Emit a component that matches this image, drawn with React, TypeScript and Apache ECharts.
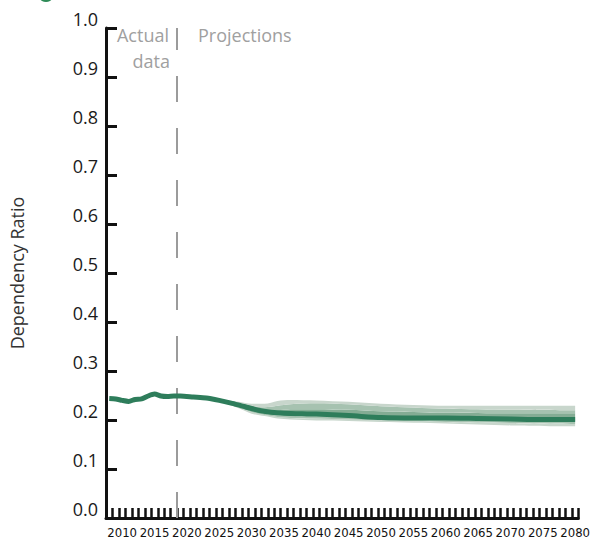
import React, { useEffect, useRef } from "react";
import * as echarts from "echarts";

// Categories: every year on the axis
const years: string[] = Array.from({ length: 73 }, (_, i) => String(2008 + i));

// Actual data (annual)
const histYears = [2008, 2009, 2010, 2011, 2012, 2013, 2014, 2015, 2016, 2017, 2018, 2019];
const histValues = [0.244, 0.243, 0.240, 0.238, 0.242, 0.243, 0.249, 0.253, 0.249, 0.248, 0.249, 0.249];

// Projection median
const projYears = [2021, 2023, 2025, 2027, 2029, 2031, 2033, 2035, 2040, 2045, 2050, 2055, 2060, 2065, 2070, 2075, 2080];
const projValues = [0.247, 0.245, 0.240, 0.234, 0.227, 0.220, 0.216, 0.214, 0.212, 0.209, 0.205, 0.204, 0.204, 0.203, 0.202, 0.201, 0.201];

// Projection uncertainty bands
const bandYears = [2019, 2022, 2025, 2028, 2030, 2032, 2034, 2036, 2040, 2045, 2050, 2060, 2070, 2080];
const outerUpper = [0.249, 0.247, 0.243, 0.237, 0.233, 0.233, 0.239, 0.241, 0.240, 0.237, 0.233, 0.229, 0.229, 0.229];
const midUpper = [0.249, 0.247, 0.242, 0.235, 0.229, 0.226, 0.229, 0.232, 0.234, 0.232, 0.228, 0.223, 0.221, 0.220];
const innerUpper = [0.249, 0.246, 0.241, 0.233, 0.226, 0.221, 0.220, 0.222, 0.222, 0.221, 0.218, 0.215, 0.214, 0.214];
const innerLower = [0.249, 0.246, 0.239, 0.228, 0.219, 0.213, 0.209, 0.208, 0.207, 0.205, 0.202, 0.199, 0.198, 0.197];
const midLower = [0.249, 0.245, 0.238, 0.226, 0.216, 0.210, 0.206, 0.204, 0.203, 0.201, 0.199, 0.196, 0.194, 0.192];
const outerLower = [0.249, 0.245, 0.237, 0.224, 0.213, 0.208, 0.203, 0.201, 0.199, 0.198, 0.196, 0.193, 0.189, 0.187];

const dividerYear = 2018.5;

const C_LINE = "#2e7d5b";
const C_OUTER = "#c8d6cc";
const C_MID = "#a6c2b0";
const C_INNER = "#84ac94";

const FONT = "'Open Sans', 'Noto Sans', sans-serif";

export default function App() {
  const ref = useRef<HTMLDivElement>(null);
  useEffect(() => {
    if (!ref.current) return;
    document.body.style.margin = "0";
    document.body.style.overflow = "hidden";
    const chart = echarts.init(ref.current, undefined, { renderer: "svg" });

    const pairs = (ys: number[], vs: number[]) => ys.map((y, i) => [String(y), vs[i]]);
    const diff = (a: number[], b: number[]) => a.map((v, i) => +(v - b[i]).toFixed(4));

    const bandLayers: [number[], string][] = [
      [diff(midLower, outerLower), C_OUTER],
      [diff(innerLower, midLower), C_MID],
      [diff(innerUpper, innerLower), C_INNER],
      [diff(midUpper, innerUpper), C_MID],
      [diff(outerUpper, midUpper), C_OUTER],
    ];

    const bandSeries: any[] = [
      {
        type: "line",
        stack: "band",
        data: pairs(bandYears, outerLower),
        symbol: "none",
        smooth: 0.3,
        lineStyle: { width: 0, opacity: 0 },
        silent: true,
      },
      ...bandLayers.map(([vals, color]) => ({
        type: "line",
        stack: "band",
        data: pairs(bandYears, vals),
        symbol: "none",
        smooth: 0.3,
        lineStyle: { width: 0, opacity: 0 },
        areaStyle: { color, opacity: 1 },
        silent: true,
      })),
    ];

    const mainData = [...pairs(histYears, histValues), ...pairs(projYears, projValues)];

    const annot = (text: string, x: number, y: number, align: string) => ({
      type: "text",
      x,
      y,
      style: { text, fill: "#a0a0a0", font: `18px ${FONT}`, textAlign: align, textVerticalAlign: "middle" },
    });

    chart.setOption({
      animation: false,
      grid: { left: 105, right: 13, top: 28, bottom: 24, containLabel: false },
      graphic: [
        { type: "circle", shape: { cx: 46, cy: -6, r: 8 }, style: { fill: "#2e8b57" } },
        annot("Actual", 169, 35, "right"),
        annot("data", 170, 61, "right"),
        annot("Projections", 198, 35, "left"),
      ],
      xAxis: [
        {
          type: "category",
          data: years,
          boundaryGap: true,
          axisLine: { lineStyle: { color: "#111", width: 3 } },
          axisTick: { show: true, interval: 0, inside: true, length: 10, lineStyle: { color: "#111", width: 2.5 } },
          axisLabel: {
            interval: (_i: number, v: string) => Number(v) % 5 === 0,
            color: "#111",
            fontSize: 13,
            fontFamily: "'Liberation Sans Narrow', 'DejaVu Sans Condensed', sans-serif",
            margin: 8,
          },
          splitLine: { show: false },
        },
        {
          type: "value",
          min: 2007.5,
          max: 2080.5,
          show: false,
        },
      ],
      yAxis: {
        type: "value",
        min: 0,
        max: 1,
        interval: 0.1,
        name: "Dependency Ratio",
        nameLocation: "middle",
        nameGap: 80,
        nameTextStyle: { color: "#333", fontSize: 18, fontFamily: FONT },
        axisLine: { show: true, lineStyle: { color: "#111", width: 3 } },
        axisTick: { show: true, inside: true, length: 11, lineStyle: { color: "#111", width: 3 } },
        axisLabel: {
          formatter: (v: number) => v.toFixed(1),
          color: "#1a1a1a",
          fontSize: 18,
          fontFamily: FONT,
          verticalAlign: "bottom",
          margin: 8,
        },
        splitLine: { show: false },
      },
      series: [
        ...bandSeries,
        {
          type: "line",
          data: mainData,
          symbol: "none",
          smooth: 0.25,
          lineStyle: { color: C_LINE, width: 5 },
          silent: true,
          z: 5,
        },
        {
          type: "line",
          xAxisIndex: 1,
          data: [],
          symbol: "none",
          markLine: {
            silent: true,
            symbol: "none",
            label: { show: false },
            lineStyle: { color: "#9b9b9b", width: 2, type: [26, 26] },
            data: [{ xAxis: dividerYear }],
          },
        },
      ],
    });
    return () => chart.dispose();
  }, []);
  return <div ref={ref} style={{ position: "absolute", left: 0, top: 0, width: 593, height: 542 }} />;
}
